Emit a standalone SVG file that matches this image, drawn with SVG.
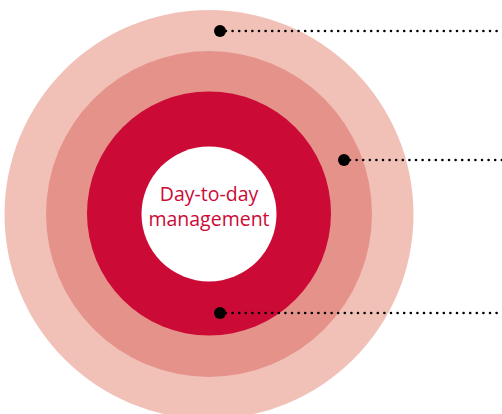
<svg xmlns="http://www.w3.org/2000/svg" width="502" height="414" viewBox="0 0 502 414">
<style>
.lbl{font-family:"Open Sans","Noto Sans",sans-serif;font-size:19.5px;fill:#CC0A36;text-anchor:middle}
.lead{stroke:#000;stroke-width:2.6;stroke-linecap:round;stroke-dasharray:0 6.6;fill:none}
.dot{fill:#000}
</style>
<rect width="502" height="414" fill="#fff"/>
<g id="ring-outer"><circle cx="209" cy="214.5" r="204.5" fill="#F1C1B8"/></g>
<g id="ring-middle"><circle cx="209" cy="214" r="163" fill="#E5938A"/></g>
<g id="ring-inner"><circle cx="209" cy="213.5" r="122" fill="#CC0A36"/></g>
<g id="core">
<circle cx="209" cy="214" r="67.5" fill="#fff"/>
<text class="lbl" x="209" y="201">Day-to-day</text>
<text class="lbl" x="209" y="226">management</text>
</g>
<g id="connectors">
<line class="lead" x1="226" y1="31" x2="502" y2="31"/>
<circle class="dot" cx="220" cy="31" r="6"/>
<line class="lead" x1="350" y1="160" x2="502" y2="160"/>
<circle class="dot" cx="344" cy="160" r="6"/>
<line class="lead" x1="226" y1="313" x2="502" y2="313"/>
<circle class="dot" cx="220" cy="313" r="6"/>
</g>
</svg>
